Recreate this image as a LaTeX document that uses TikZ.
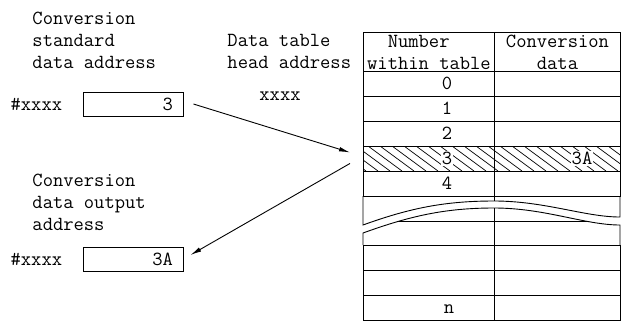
\documentclass[tikz,border=0pt]{standalone}
\usepackage{fontspec}
\usepackage{tikz}
\usetikzlibrary{arrows.meta,positioning}

\begin{document}
\begin{tikzpicture}[x=1pt,y=-1pt,>={Latex[length=11pt,width=4.5pt]},
    font=\ttfamily\fontsize{20}{22}\selectfont,line width=0.9pt,
    cell/.style={draw,anchor=north west,inner sep=0pt,minimum height=25pt},
    numcell/.style={cell,minimum width=131pt},
    convcell/.style={cell,minimum width=126pt},
    valbox/.style={draw,text width=80pt,align=right,inner xsep=10pt,inner ysep=0pt,minimum height=24pt},
    lbl/.style={anchor=north west,align=left,inner sep=0pt}]
  \useasboundingbox (0,0) rectangle (627,333);

  % labels on the left
  \node[lbl] (srclbl) at (32,12) {Conversion\\standard\\data address};
  \node[lbl] (headlbl) at (227,34) {Data table\\head address};
  \node[inner sep=0pt] (headaddr) at (280,96) {xxxx};
  \node[lbl] (dstlbl) at (32,174) {Conversion\\data output\\address};

  % source and destination boxes
  \node[valbox] (src) at (133,104) {3};
  \node[anchor=base east,inner sep=0pt] (srcaddr) at ([xshift=-20pt]src.base west) {\#xxxx};
  \node[valbox] (dst) at (133,259) {3A};
  \node[anchor=base east,inner sep=0pt] (dstaddr) at ([xshift=-20pt]dst.base west) {\#xxxx};

  % table head
  \node[cell,minimum width=131pt,minimum height=39pt,align=left] (hnum) at (363,32) {\hphantom{xx}Number\\within table};
  \node[cell,minimum width=126pt,minimum height=39pt,align=center] (hconv) at (494,32) {Conversion\\data};

  % hatched row
  \begin{scope}
    \clip (363,146) rectangle (620,171);
    \foreach \x in {320,332,...,620}
      \draw[line width=0.7pt] (\x,146) -- ++(34,25);
  \end{scope}

  % upper rows
  \foreach \i in {0,...,4} {
    \node[numcell] (num\i) at (363,71+25*\i) {};
    \node[convcell] (conv\i) at (494,71+25*\i) {};
  }
  \foreach \i in {0,1,2,4}
    \node[inner sep=0pt] (d\i) at (447,83.5+25*\i) {\i};
  \node[fill=white,inner sep=1pt] (d3) at (447,158.5) {3};
  \node[fill=white,inner sep=1pt] (v3) at (582,158.5) {3A};

  % break in the table
  \draw (363,196) -- (363,225) .. controls (410,208) and (445,201) .. (494,201)
        .. controls (545,201) and (585,217) .. (620,217) -- (620,196);
  \draw (494,196) -- (494,201);
  \begin{scope}
    \clip (363,233) .. controls (410,216) and (445,208) .. (494,208)
          .. controls (545,208) and (585,225) .. (620,225) -- (620,260) -- (363,260) -- cycle;
    \draw (363,221) -- (620,221);
  \end{scope}
  \draw (363,245) -- (363,233) .. controls (410,216) and (445,208) .. (494,208)
        .. controls (545,208) and (585,225) .. (620,225) -- (620,245);
  \draw (494,208) -- (494,245);

  % lower rows
  \foreach \r [count=\i] in {245,270,295} {
    \node[numcell] (low\i) at (363,\r) {};
    \node[convcell] (lowc\i) at (494,\r) {};
  }
  \node[inner sep=0pt] (dn) at (449,309) {n};

  % arrows
  \draw[->] ([xshift=10pt]src.east) -- ([xshift=-13pt,yshift=6.5pt]num3.west);
  \draw[->] ([xshift=-13pt,yshift=-4.5pt]num3.west) -- ([xshift=7pt,yshift=4pt]dst.east);
\end{tikzpicture}
\end{document}
